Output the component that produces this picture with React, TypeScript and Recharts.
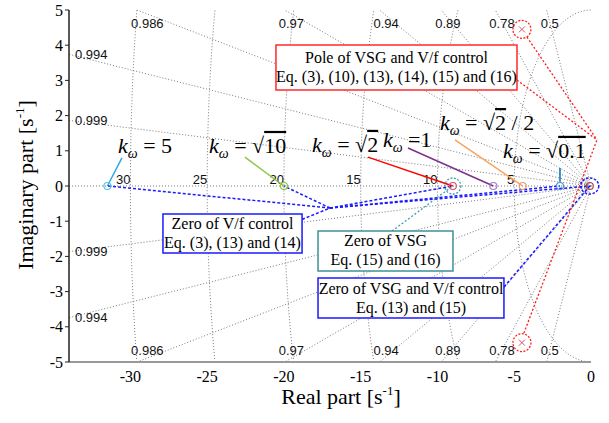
import {
  ScatterChart,
  Scatter,
  XAxis,
  YAxis,
  ReferenceLine,
  ReferenceArea,
} from "recharts";

// pzmap data
const kOmegaLabels = ["5", "√10", "√2", "1", "√2 / 2", "√0.1"];
const vfZeroRe = [-31.5, -20.0, -9.0, -6.36, -4.45, -2.02];
const commonZeroRe = -0.08;
const poleRe = -4.5;
const poleIm = 4.45;

// sgrid
const zetaValues = [0.9985, 0.994, 0.986, 0.97, 0.94, 0.89, 0.78, 0.5];
const zetaLabels = ["0.999", "0.994", "0.986", "0.97", "0.94", "0.89", "0.78", "0.5"];
const wnValues = [5, 10, 15, 20, 25, 30];
const wnLabels = ["5", "10", "15", "20", "25", "30"];

const xTicks = [-30, -25, -20, -15, -10, -5, 0];
const yTicks = [-5, -4, -3, -2, -1, 0, 1, 2, 3, 4, 5];

const X_MIN = -34;
const X_MAX = 0;
const Y_MIN = -5;
const Y_MAX = 5;

const SERIF = "'Liberation Serif', 'Times New Roman', serif";
const SANS = "'Liberation Sans', Arial, sans-serif";
const GRID = "#7a7a7a";

const zeroColors = ["#5cc3ee", "#8cc63f", "#d9536b", "#a77cc9", "#ec9a6c", "#4a97d6"];
const leaderColors = ["#29abe2", "#8cc63f", "#ff0000", "#7e2f8e", "#f7a35c", "#0072bd"];

// annotation anchors (data coords)
const kLabelPos = [
  [-30.81, 0.94],
  [-24.88, 0.94],
  [-18.17, 0.97],
  [-13.55, 1.11],
  [-9.84, 1.59],
  [-5.73, 0.8],
];
const kLeaderEnd = [
  [-30.55, 0.8],
  [-22.54, 0.82],
  [-14.53, 0.82],
  [-11.92, 1.08],
  [-8.86, 1.31],
  [-2.02, 0.51],
];
const vfJoin = { x: -17.0, y: -0.625 };
const poleJoin = { x: 0.39, y: 1.31 };

const clampY = (v: number) => Math.max(Y_MIN, Math.min(Y_MAX, v));

const rayEnd = (z: number, sign: number) => {
  const s = Math.sqrt(1 - z * z) / z;
  const xv = -Y_MAX / s;
  if (xv >= X_MIN) return { x: xv, y: sign * Y_MAX, side: "v" };
  return { x: X_MIN, y: sign * -X_MIN * s, side: "h" };
};

const arcs = wnValues.map((r) => {
  const phiMax = r <= Y_MAX ? Math.PI / 2 : Math.asin(Y_MAX / r);
  const pts = [];
  for (let i = 0; i <= 60; i++) {
    const phi = -phiMax + (2 * phiMax * i) / 60;
    pts.push({ x: -r * Math.cos(phi), y: clampY(r * Math.sin(phi)) });
  }
  return pts;
});

const zetaText = zetaValues.flatMap((z, i) =>
  [1, -1].map((sign) => ({ ...rayEnd(z, sign), text: zetaLabels[i], sign }))
);
const wnText = wnValues.map((r, i) => ({ x: -r, y: 0, text: wnLabels[i] }));

const markerData = [
  ...vfZeroRe.map((x, i) => ({ x, y: 0, kind: "zero", idx: i })),
  { x: commonZeroRe, y: 0, kind: "origin", idx: -1 },
  { x: poleRe, y: poleIm, kind: "pole", idx: -1 },
  { x: poleRe, y: -poleIm, kind: "pole", idx: -1 },
];

const kLabelData = kOmegaLabels.map((t, i) => ({ x: kLabelPos[i][0], y: kLabelPos[i][1], text: t }));

const Empty = () => <g />;

const ZetaLabel = (p: any) => {
  const { cx, cy, payload } = p;
  const v = payload.side === "v";
  const tx = v ? cx - 6 : cx + 6;
  const ty = v ? cy + (payload.sign > 0 ? 13 : -12) : cy;
  return (
    <text x={tx} y={ty} dy="0.35em" fontFamily={SANS} fontSize={13} fill="#111">
      {payload.text}
    </text>
  );
};

const WnLabel = (p: any) => (
  <text x={p.cx} y={p.cy - 7} dy="0.35em" textAnchor="end" fontFamily={SANS} fontSize={13} fill="#111">
    {p.payload.text}
  </text>
);

const Marker = (p: any) => {
  const { cx, cy, payload } = p;
  if (payload.kind === "pole") {
    const d = 3;
    return (
      <g>
        <line x1={cx - d} y1={cy - d} x2={cx + d} y2={cy + d} stroke="#d9536b" />
        <line x1={cx - d} y1={cy + d} x2={cx + d} y2={cy - d} stroke="#d9536b" />
        <circle cx={cx} cy={cy} r={9} fill="none" stroke="#ff2020" strokeWidth={1.3} strokeDasharray="2 1.5" />
      </g>
    );
  }
  if (payload.kind === "origin") {
    return (
      <g>
        <circle cx={cx} cy={cy} r={3.5} fill="none" stroke="#b04050" strokeWidth={1.2} />
        <ellipse cx={cx} cy={cy} rx={9} ry={8} fill="none" stroke="#1a1aff" strokeWidth={1.5} strokeDasharray="2.5 1.5" />
      </g>
    );
  }
  return (
    <g>
      <circle cx={cx} cy={cy} r={3.5} fill="none" stroke={zeroColors[payload.idx]} strokeWidth={1.2} />
      {payload.idx === 2 && (
        <circle cx={cx} cy={cy} r={8} fill="none" stroke="#3aa0b0" strokeWidth={1.3} strokeDasharray="2 1.5" />
      )}
    </g>
  );
};

const Radical = ({ body }: { body: string }) => {
  if (!body.startsWith("√")) return <tspan>{body}</tspan>;
  const rest = body.slice(1);
  const [rad, ...tail] = rest.split(" ");
  return (
    <>
      <tspan>√</tspan>
      <tspan style={{ textDecoration: "overline" }}>{rad}</tspan>
      {tail.length > 0 && <tspan>{" " + tail.join(" ")}</tspan>}
    </>
  );
};

const KLabel = (p: any) => {
  const { cx, cy, payload } = p;
  return (
    <text x={cx} y={cy} fontFamily={SERIF} fontSize={22} fill="#000">
      <tspan fontStyle="italic">k</tspan>
      <tspan fontStyle="italic" fontSize={14} dy={5}>ω</tspan>
      <tspan dy={-5}>{payload.text === "1" ? " =" : " = "}</tspan>
      <Radical body={payload.text} />
    </text>
  );
};

const boxLabel = (lines: string[]) => (props: any) => {
  const { x, y, width, height } = props.viewBox;
  const cx = x + width / 2;
  const cy = y + height / 2;
  return (
    <text fontFamily={SERIF} fontSize={16} fill="#000" textAnchor="middle">
      {lines.map((l, i) => (
        <tspan key={l} x={cx} y={cy + (i - (lines.length - 1) / 2) * 19 + 5}>
          {l}
        </tspan>
      ))}
    </text>
  );
};

const XTitle = (props: any) => {
  const vb = props.viewBox || { x: 69, y: 362, width: 522 };
  return (
    <text x={vb.x + vb.width / 2 + 11} y={vb.y + 42} textAnchor="middle" fontFamily={SERIF} fontSize={22} fill="#000">
      Real part [s
      <tspan dy={-9} fontSize={13}>-1</tspan>
      <tspan dy={9}>]</tspan>
    </text>
  );
};

const YTitle = () => (
  <text transform="translate(33,185) rotate(-90)" textAnchor="middle" fontFamily={SERIF} fontSize={22} fill="#000">
    Imaginary part [s
    <tspan dy={-9} fontSize={13}>-1</tspan>
    <tspan dy={9}>]</tspan>
  </text>
);

const seg = (a: { x: number; y: number }, b: { x: number; y: number }) => [a, b];

export default function App() {
  const blue = { stroke: "#1a1aff", strokeWidth: 1.5, strokeDasharray: "3 2" };
  const red = { stroke: "#ff1a1a", strokeWidth: 1.3, strokeDasharray: "2 2" };
  return (
    <div style={{ position: "fixed", left: 0, top: 0, width: 609, height: 423, background: "#fff" }}>
      <ScatterChart width={609} height={423} margin={{ top: 10, right: 18, bottom: 0, left: 0 }}>
        <XAxis
          type="number"
          dataKey="x"
          domain={[X_MIN, X_MAX]}
          ticks={xTicks}
          height={61}
          tickLine={false}
          tickMargin={3}
          axisLine={{ stroke: "#999", strokeWidth: 2 }}
          tick={{ fill: "#000", fontSize: 16, fontFamily: SERIF }}
          label={<XTitle />}
        />
        <XAxis
          xAxisId="top"
          orientation="top"
          type="number"
          domain={[X_MIN, X_MAX]}
          ticks={xTicks}
          height={0}
          mirror
          tick={false}
          tickSize={4}
          axisLine={{ stroke: "#000" }}
          tickLine={{ stroke: "#000" }}
        />
        <YAxis
          type="number"
          dataKey="y"
          domain={[Y_MIN, Y_MAX]}
          ticks={yTicks}
          width={69}
          tickSize={4}
          tickMargin={2}
          axisLine={{ stroke: "#222", strokeWidth: 1.5 }}
          tickLine={{ stroke: "#222" }}
          tick={{ fill: "#000", fontSize: 16, fontFamily: SERIF }}
          label={<YTitle />}
        />
        <YAxis
          yAxisId="right"
          orientation="right"
          type="number"
          domain={[Y_MIN, Y_MAX]}
          ticks={yTicks}
          width={0}
          mirror
          tick={false}
          tickSize={4}
          axisLine={{ stroke: "#000" }}
          tickLine={{ stroke: "#000" }}
        />

        {/* damping-ratio rays */}
        <ReferenceLine y={0} stroke={GRID} strokeDasharray="1 2" zIndex={-10} />
        {zetaValues.flatMap((z) =>
          [1, -1].map((s) => {
            const e = rayEnd(z, s);
            return (
              <ReferenceLine
                key={`${z}-${s}`}
                segment={seg({ x: 0, y: 0 }, { x: e.x, y: e.y })}
                stroke={GRID}
                strokeDasharray="1 2"
                ifOverflow="visible"
                zIndex={-10}
              />
            );
          })
        )}
        {/* natural-frequency arcs */}
        {arcs.map((pts, i) => (
          <Scatter
            key={`arc-${i}`}
            data={pts}
            line={{ stroke: GRID, strokeDasharray: "1 2", strokeWidth: 1 }}
            shape={<Empty />}
            isAnimationActive={false}
            zIndex={-10}
          />
        ))}
        <Scatter data={zetaText} shape={<ZetaLabel />} isAnimationActive={false} zIndex={-5} />
        <Scatter data={wnText} shape={<WnLabel />} isAnimationActive={false} zIndex={-5} />

        {/* k_omega leaders */}
        {vfZeroRe.map((x, i) => (
          <ReferenceLine
            key={`kl-${i}`}
            segment={seg({ x, y: i === 5 ? 0.12 : 0 }, { x: kLeaderEnd[i][0], y: kLeaderEnd[i][1] })}
            stroke={leaderColors[i]}
            strokeWidth={1.5}
            ifOverflow="visible"
            zIndex={650}
          />
        ))}
        {/* V/f zero leaders */}
        <ReferenceLine segment={seg({ x: -18.82, y: -0.95 }, vfJoin)} {...blue} ifOverflow="visible" zIndex={650} />
        {[0, 1, 2, 5].map((i) => (
          <ReferenceLine
            key={`vf-${i}`}
            segment={seg(vfJoin, { x: vfZeroRe[i], y: 0 })}
            {...blue}
            ifOverflow="visible"
            zIndex={650}
          />
        ))}
        <ReferenceLine segment={seg(vfJoin, { x: commonZeroRe, y: 0 })} {...blue} ifOverflow="visible" zIndex={650} />
        <ReferenceLine segment={seg({ x: -5.67, y: -2.87 }, { x: commonZeroRe, y: 0 })} {...blue} ifOverflow="visible" zIndex={650} />
        <ReferenceLine
          segment={seg({ x: -12.96, y: -1.28 }, { x: vfZeroRe[2], y: 0 })}
          stroke="#3aa0b0"
          strokeWidth={1.3}
          strokeDasharray="2 2"
          ifOverflow="visible"
          zIndex={650}
        />
        {/* pole leaders */}
        <ReferenceLine segment={seg({ x: -4.82, y: 3.01 }, poleJoin)} {...red} ifOverflow="visible" zIndex={650} />
        <ReferenceLine segment={seg({ x: -4.17, y: 4.23 }, poleJoin)} {...red} ifOverflow="visible" zIndex={650} />
        <ReferenceLine segment={seg({ x: -4.37, y: -4.18 }, poleJoin)} {...red} ifOverflow="visible" zIndex={650} />

        {/* annotation boxes */}
        <ReferenceArea
          x1={-20.52}
          x2={-4.82}
          y1={2.727}
          y2={4.006}
          fill="#fff"
          fillOpacity={1}
          stroke="#ff2a2a"
          strokeWidth={1.5}
          label={boxLabel(["Pole of VSG and V/f control", "Eq. (3), (10), (13), (14), (15) and (16)"])}
          zIndex={700}
        />
        <ReferenceArea
          x1={-27.88}
          x2={-18.82}
          y1={-1.903}
          y2={-0.795}
          fill="#fff"
          fillOpacity={1}
          stroke="#1a1aff"
          strokeWidth={1.5}
          label={boxLabel(["Zero of V/f control", "Eq. (3), (13) and (14)"])}
          zIndex={700}
        />
        <ReferenceArea
          x1={-17.78}
          x2={-8.99}
          y1={-2.415}
          y2={-1.278}
          fill="#fff"
          fillOpacity={1}
          stroke="#3d9199"
          strokeWidth={1.5}
          label={boxLabel(["Zero of VSG", "Eq. (15) and (16)"])}
          zIndex={700}
        />
        <ReferenceArea
          x1={-17.78}
          x2={-5.67}
          y1={-3.75}
          y2={-2.614}
          fill="#fff"
          fillOpacity={1}
          stroke="#1a1aff"
          strokeWidth={1.5}
          label={boxLabel(["Zero of VSG and V/f control", "Eq. (13) and (15)"])}
          zIndex={700}
        />

        <Scatter data={markerData} shape={<Marker />} isAnimationActive={false} zIndex={800} />
        <Scatter data={kLabelData} shape={<KLabel />} isAnimationActive={false} zIndex={900} />
      </ScatterChart>
    </div>
  );
}
